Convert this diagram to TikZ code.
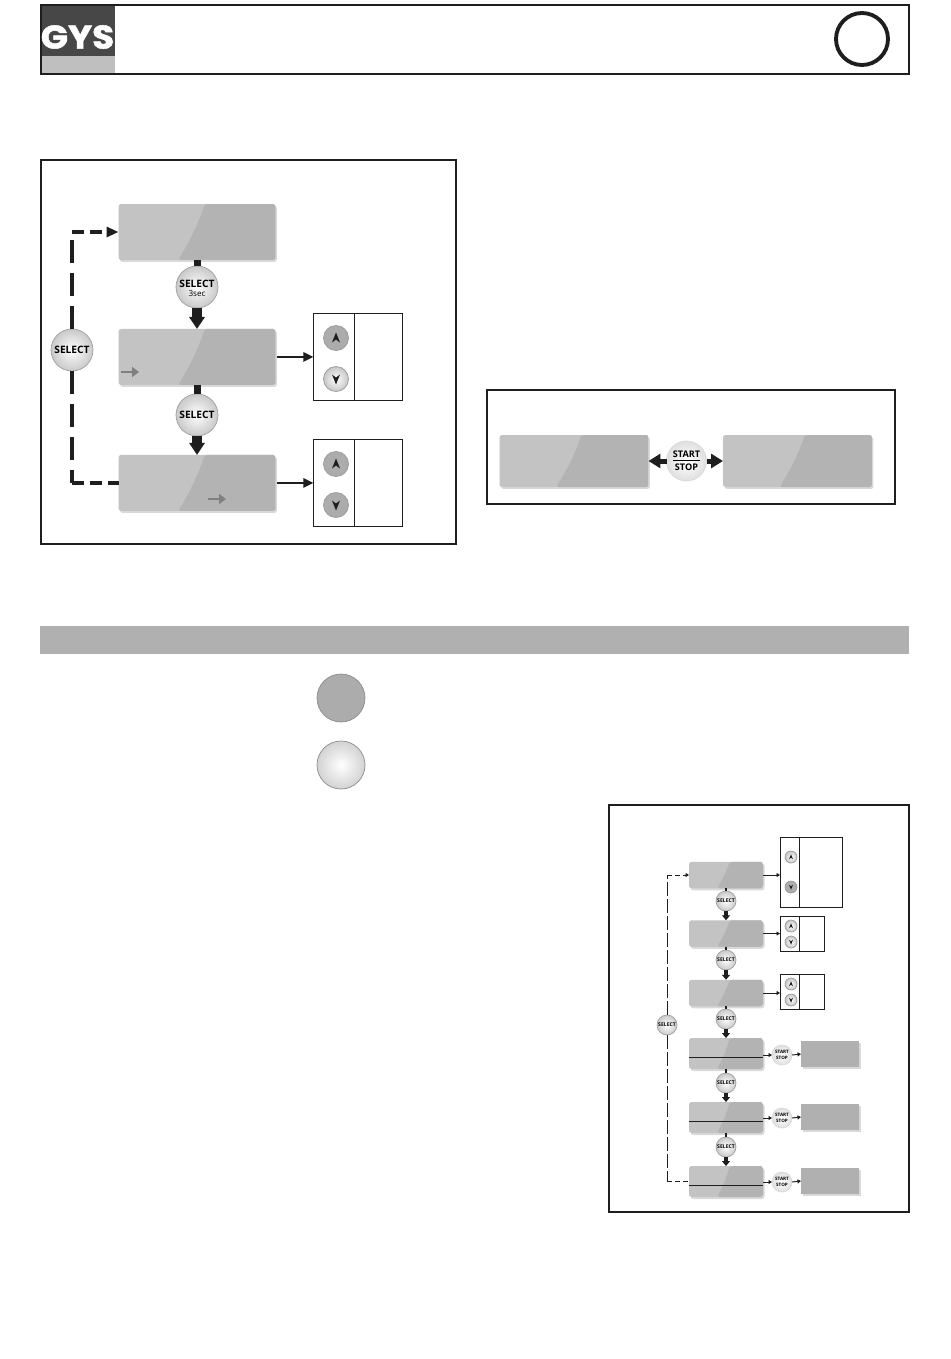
\documentclass[tikz,border=0pt]{standalone}
\usepackage{fontspec}
\setsansfont{Open Sans}
\newfontfamily\logofont[BoldFeatures={FakeBold=1.5}]{Poppins}
\usepackage{xcolor}
\usetikzlibrary{positioning, arrows.meta, shadows, calc}

\definecolor{lcdlight}{HTML}{C3C3C3}
\definecolor{lcddark}{HTML}{B3B3B3}
\definecolor{bargray}{HTML}{B0B0B0}
\definecolor{inkblack}{HTML}{1E1E1E}

\newcommand{\btnfont}[1]{\sffamily\bfseries\fontsize{#1}{#1}\selectfont}

\begin{document}
\begin{tikzpicture}[
    x=0.02cm, y=-0.02cm,
    panel/.style={draw=inkblack, line width=1.2pt},
    lcd/.style={rounded corners=1.5pt, fill=lcdlight, outer sep=0pt, inner sep=0pt,
        drop shadow={shadow xshift=0.03cm, shadow yshift=-0.04cm, opacity=0.15, fill=black},
        path picture={
            \fill[lcddark] ($(path picture bounding box.north west)!0.55!(path picture bounding box.north east)$)
                to[bend left=6] ($(path picture bounding box.south west)!0.38!(path picture bounding box.south east)$)
                -- (path picture bounding box.south east) -- (path picture bounding box.north east) -- cycle;
        }},
    lcdbig/.style={lcd, minimum width=3.14cm, minimum height=1.12cm},
    lcdwide/.style={lcd, minimum width=2.98cm, minimum height=1.04cm},
    lcdmini/.style={lcd, minimum width=1.48cm},
    result/.style={fill=bargray, outer sep=0pt, inner sep=0pt, minimum width=1.16cm, minimum height=0.52cm,
        drop shadow={shadow xshift=0.03cm, shadow yshift=-0.03cm, opacity=0.15, fill=black}},
    btn/.style={circle, draw=gray!75, inner sep=0pt, outer sep=0pt, inner color=white, outer color=gray!42, align=center},
    selbig/.style={btn, minimum size=0.84cm, text=black, font=\btnfont{5.8}},
    selmini/.style={btn, minimum size=0.4cm, text=black, font=\btnfont{2.9}},
    ssbig/.style={btn, draw=gray!30, outer color=gray!25, minimum size=0.8cm, text=black, font=\btnfont{5.2}},
    ssmini/.style={btn, draw=gray!30, outer color=gray!25, minimum size=0.4cm, text=black, font=\btnfont{2.6}},
    keyup/.style={circle, draw=gray!80, outer sep=0pt, path picture={
            \fill[inkblack] (path picture bounding box.center) ++(0,-#1*0.55) -- ++(#1*0.4,#1) -- ++(-#1*0.4,-#1*0.3) -- ++(-#1*0.4,#1*0.3) -- cycle;
        }},
    keydown/.style={circle, draw=gray!80, outer sep=0pt, path picture={
            \fill[inkblack] (path picture bounding box.center) ++(0,#1*0.55) -- ++(#1*0.4,-#1) -- ++(-#1*0.4,#1*0.3) -- ++(-#1*0.4,-#1*0.3) -- cycle;
        }},
    keygray/.style={fill=gray!65},
    keylit/.style={inner color=white, outer color=gray!45},
    optbox/.style={draw=inkblack, line width=0.5pt, outer sep=0pt, minimum width=1.78cm, minimum height=1.74cm},
    optmini/.style={draw=inkblack, line width=0.5pt, outer sep=0pt, minimum width=0.88cm, minimum height=0.7cm},
    stub/.style={inkblack, line width=0.14cm},
    stubmini/.style={inkblack, line width=0.05cm},
    flow/.style={inkblack, line width=0.2cm, -{Triangle[length=0.24cm, width=0.3cm]}},
    flowmini/.style={inkblack, line width=0.08cm, -{Triangle[length=0.1cm, width=0.16cm]}},
    side/.style={inkblack, line width=1.6pt, -{Triangle[length=0.2cm, width=0.18cm]}},
    sidemini/.style={inkblack, line width=0.55pt, -{Triangle[length=0.07cm, width=0.08cm]}},
    dashv/.style={inkblack, line width=1.9pt, dash pattern=on 0.46cm off 0.2cm},
    dashh/.style={inkblack, line width=1.9pt, dash pattern=on 0.24cm off 0.12cm},
    dashminiv/.style={inkblack, line width=0.55pt, dash pattern=on 0.28cm off 0.06cm},
    dashminih/.style={inkblack, line width=0.55pt, dash pattern=on 0.1cm off 0.06cm},
    hint/.style={gray, line width=1.7pt, -{Triangle[length=0.14cm, width=0.2cm]}}
]
    \useasboundingbox (0,0) rectangle (950,1359);

    % header
    \fill[white] (0,0) rectangle (950,1359);
    \fill[black!72] (41,5) rectangle (115,56);
    \fill[black!25] (41,56) rectangle (115,74);
    \draw[panel] (41,5) rectangle (909,74);
    \node[text=white, inner sep=0pt] (logo) at (77.5,37) {\scalebox{1.2}[1.1]{\logofont\bfseries\fontsize{17}{17}\selectfont GYS}};
    \node[circle, draw=inkblack, line width=2.2pt, minimum size=1.04cm, inner sep=0pt] (flag) at (862,39) {};

    % settings panel
    \draw[panel] (41,160) rectangle (456,544);
    \node[lcdbig] (dispa) at (197,232) {};
    \node[lcdbig, below=1.38cm of dispa] (dispb) {};
    \node[lcdbig, below=1.4cm of dispb] (dispc) {};
    \node[selbig, below=0.12cm of dispa] (btna) {\rule{0pt}{6pt}SELECT\\[-0.5pt]{\mdseries\fontsize{4.6}{4.6}\selectfont 3sec}};
    \node[selbig, below=0.18cm of dispb] (btnb) {SELECT};
    \node[selbig] (btnside) at (72,350) {SELECT};
    \node[optbox, right=0.76cm of dispb] (opta) {};
    \node[optbox, right=0.76cm of dispc] (optb) {};
    \draw[line width=0.5pt, inkblack] ([xshift=0.82cm]opta.north west) -- ([xshift=0.82cm]opta.south west);
    \draw[line width=0.5pt, inkblack] ([xshift=0.82cm]optb.north west) -- ([xshift=0.82cm]optb.south west);
    \node[keyup=10, keygray, minimum size=0.5cm] (upa) at (336,338) {};
    \node[keydown=10, keylit, minimum size=0.5cm] (downa) at (336,379) {};
    \node[keyup=10, keygray, minimum size=0.5cm] (upb) at (336,464) {};
    \node[keydown=10, keygray, minimum size=0.5cm] (downb) at (336,505) {};

    \draw[stub] (dispa) -- (btna);
    \draw[stub] (dispb) -- (btnb);
    \draw[flow] (btna) -- (dispb);
    \draw[flow] (btnb) -- (dispc);
    \draw[side] (dispb.east) ++(0.04cm,0) -- (opta.west);
    \draw[side] (dispc.east) ++(0.04cm,0) -- (optb.west);

    \coordinate (cornera) at (btnside |- dispa);
    \coordinate (cornerb) at (btnside |- dispc);
    \draw[dashv] (btnside.north) -- (cornera);
    \draw[dashh, -{Triangle[length=0.24cm, width=0.2cm]}] (cornera) -- (dispa.west);
    \draw[dashv] (btnside.south) -- (cornerb);
    \draw[dashh] (cornerb) -- (dispc.west);
    \coordinate (hintaa) at (121,372);
    \coordinate (hintab) at (139,372);
    \coordinate (hintba) at (208,499);
    \coordinate (hintbb) at (226,499);
    \draw[hint] (hintaa) -- (hintab);
    \draw[hint] (hintba) -- (hintbb);

    % start stop panel
    \draw[panel] (487,390) rectangle (895,504);
    \node[lcdwide] (dispstart) at (574,461) {};
    \node[lcdwide] (dispstop) at (797.5,461) {};
    \node[ssbig] (btnss) at (686.5,461) {\underline{START}\\[0.5pt]STOP};
    \draw[inkblack, line width=0.1cm, -{Triangle[length=0.24cm, width=0.28cm]}] (btnss) -- (dispstart);
    \draw[inkblack, line width=0.1cm, -{Triangle[length=0.24cm, width=0.28cm]}] (btnss) -- (dispstop);

    % banner and state lamps
    \fill[bargray] (40,626) rectangle (909,654);
    \node[circle, draw=gray!90, fill=gray!65, minimum size=0.96cm] (lampon) at (341,698) {};
    \node[circle, draw=gray!90, inner color=white, outer color=gray!35, minimum size=0.96cm] (lampoff) at (341,765) {};

    % menu panel
    \draw[panel] (609,805) rectangle (909,1212);
    \node[lcdmini, minimum height=0.53cm] (mena) at (726,875) {};
    \node[lcdmini, minimum height=0.53cm] (menb) at (726,933.5) {};
    \node[lcdmini, minimum height=0.53cm] (menc) at (726,993) {};
    \node[lcdmini, minimum height=0.62cm] (mend) at (726,1053.5) {};
    \node[lcdmini, minimum height=0.62cm] (mene) at (726,1117.5) {};
    \node[lcdmini, minimum height=0.62cm] (menf) at (726,1181.5) {};
    \node[selmini] (sela) at (726,901) {SELECT};
    \node[selmini] (selb) at (726,960) {SELECT};
    \node[selmini] (selc) at (726,1019) {SELECT};
    \node[selmini] (seld) at (726,1083) {SELECT};
    \node[selmini] (sele) at (726,1147) {SELECT};
    \node[selmini] (selside) at (667,1025) {SELECT};

    \draw[stubmini] (mena) -- (sela);
    \draw[stubmini] (menb) -- (selb);
    \draw[stubmini] (menc) -- (selc);
    \draw[stubmini] (mend) -- (seld);
    \draw[stubmini] (mene) -- (sele);
    \draw[flowmini] (sela) -- (menb);
    \draw[flowmini] (selb) -- (menc);
    \draw[flowmini] (selc) -- (mend);
    \draw[flowmini] (seld) -- (mene);
    \draw[flowmini] (sele) -- (menf);

    \draw[inkblack, line width=0.45pt] ([yshift=-0.07cm]mend.west) -- ([yshift=-0.07cm]mend.east);
    \draw[inkblack, line width=0.45pt] ([yshift=-0.07cm]mene.west) -- ([yshift=-0.07cm]mene.east);
    \draw[inkblack, line width=0.45pt] ([yshift=-0.07cm]menf.west) -- ([yshift=-0.07cm]menf.east);

    \node[optbox, minimum width=1.24cm, minimum height=1.4cm] (optc) at (811,872) {};
    \node[optmini] (optd) at (802,933.5) {};
    \node[optmini] (opte) at (802,991.5) {};
    \draw[line width=0.5pt, inkblack] ([xshift=0.38cm]optc.north west) -- ([xshift=0.38cm]optc.south west);
    \draw[line width=0.5pt, inkblack] ([xshift=0.38cm]optd.north west) -- ([xshift=0.38cm]optd.south west);
    \draw[line width=0.5pt, inkblack] ([xshift=0.38cm]opte.north west) -- ([xshift=0.38cm]opte.south west);
    \node[keyup=5, keylit, minimum size=0.24cm, inner sep=0pt] (upc) at (791,857) {};
    \node[keydown=5, keygray, minimum size=0.24cm, inner sep=0pt] (downc) at (791,887) {};
    \node[keyup=5, keylit, minimum size=0.24cm, inner sep=0pt] (upd) at (791,926) {};
    \node[keydown=5, keylit, minimum size=0.24cm, inner sep=0pt] (downd) at (791,942) {};
    \node[keyup=5, keylit, minimum size=0.24cm, inner sep=0pt] (upe) at (791,984) {};
    \node[keydown=5, keylit, minimum size=0.24cm, inner sep=0pt] (downe) at (791,1000) {};

    \draw[sidemini] (mena.east) -- (mena.east -| optc.west);
    \draw[sidemini] (menb.east) -- (optd.west);
    \draw[sidemini] (menc.east) -- (menc.east -| opte.west);

    \node[ssmini] (ssa) at (782,1055) {START\\[0.6pt]STOP};
    \node[ssmini] (ssb) at (782,1118) {START\\[0.6pt]STOP};
    \node[ssmini] (ssc) at (782,1182) {START\\[0.6pt]STOP};
    \node[result] (resa) at (830,1054) {};
    \node[result] (resb) at (830,1117) {};
    \node[result] (resc) at (830,1181) {};
    \draw[sidemini] (mend.east |- ssa) -- (ssa.west);
    \draw[sidemini] (mene.east |- ssb) -- (ssb.west);
    \draw[sidemini] (menf.east |- ssc) -- (ssc.west);
    \draw[sidemini] (ssa.east) -- (resa.west);
    \draw[sidemini] (ssb.east) -- (resb.west);
    \draw[sidemini] (ssc.east) -- (resc.west);

    \coordinate (cornerc) at (selside |- mena);
    \coordinate (cornerd) at (selside |- menf);
    \draw[dashminiv] (selside.north) -- (cornerc);
    \draw[dashminih, -{Triangle[length=0.07cm, width=0.08cm]}] (cornerc) -- (mena.west);
    \draw[dashminiv] (selside.south) -- (cornerd);
    \draw[dashminih] (cornerd) -- (menf.west);
\end{tikzpicture}
\end{document}
